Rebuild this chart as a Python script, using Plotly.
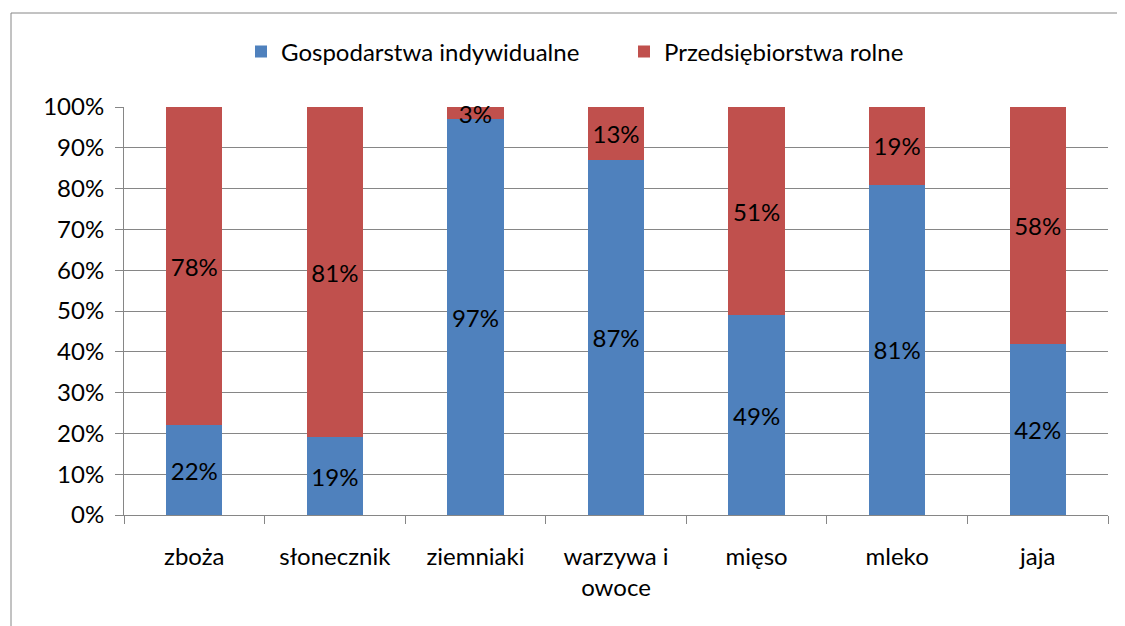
import plotly.graph_objects as go

categories = ["zboża", "słonecznik", "ziemniaki", "warzywa i<br>owoce", "mięso", "mleko", "jaja"]
indywidualne = [22, 19, 97, 87, 49, 81, 42]
rolne = [78, 81, 3, 13, 51, 19, 58]
series_names = ["Gospodarstwa indywidualne", "Przedsiębiorstwa rolne"]
colors = ["#4F81BD", "#C0504D"]
ytick_vals = list(range(0, 101, 10))
ytick_text = [f"{v}%" for v in ytick_vals]

FONT = "Lato"
FS = 24

fig = go.Figure()
for name, vals, col in zip(series_names, [indywidualne, rolne], colors):
    fig.add_trace(go.Bar(
        x=categories, y=vals, name=name,
        marker=dict(color=col, line=dict(width=0)),
        text=[f"{v}%" for v in vals],
        textposition="inside", insidetextanchor="middle",
        constraintext="none", textangle=0,
        textfont=dict(family=FONT, size=FS, color="black"),
        cliponaxis=False,
    ))

# page body has an 8px margin, so offsets are compensated
fig.update_layout(
    barmode="stack", bargap=0.6,
    width=1125, height=626,
    margin=dict(l=116, r=25, t=99, b=119, autoexpand=False),
    paper_bgcolor="white", plot_bgcolor="white",
    font=dict(family=FONT, size=FS, color="black"),
    showlegend=True,
    legend=dict(orientation="h", x=(241 - 124) / 984, xanchor="left", y=1.135, yanchor="middle",
                font=dict(family=FONT, size=FS), itemwidth=30, traceorder="normal",
                entrywidth=338, entrywidthmode="pixels"),
    xaxis=dict(showgrid=False, showline=True, linecolor="#868686", linewidth=1,
               ticks="outside", tickson="boundaries", ticklen=8, tickcolor="#868686",
               ticklabelstandoff=20, tickfont=dict(family=FONT, size=FS)),
    yaxis=dict(range=[0, 100], tickvals=ytick_vals, ticktext=ytick_text,
               showgrid=True, gridcolor="#868686", gridwidth=1,
               showline=True, linecolor="#868686", linewidth=1,
               ticks="outside", ticklen=8, tickcolor="#868686",
               ticklabelstandoff=6, tickfont=dict(family=FONT, size=FS), zeroline=False),
    shapes=[dict(type="rect", xref="paper", yref="paper",
                 x0=(11 - 124) / 984, x1=(1140 - 124) / 984,
                 y0=(515 - 640) / 408, y1=(515 - 13) / 408,
                 line=dict(color="#868686", width=1), fillcolor="rgba(0,0,0,0)", layer="below")],
)

fig.write_html("out.html")
